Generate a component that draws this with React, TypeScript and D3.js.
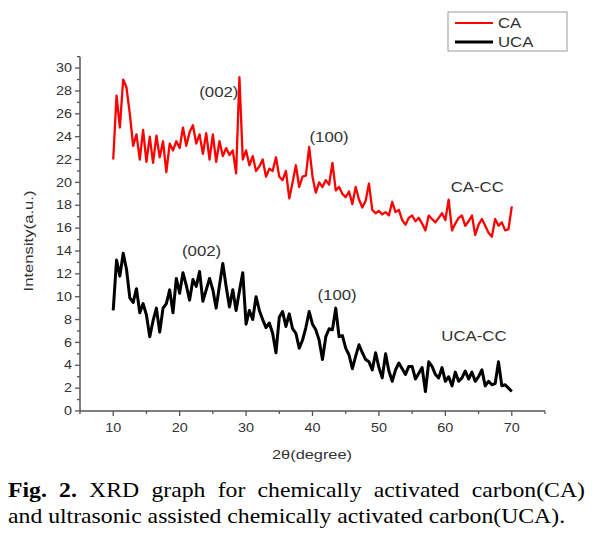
import React, { useMemo } from "react";
import * as d3 from "d3";

// ---------- data ----------
const X_START = 10;
const X_STEP = 0.5;

const caValues: number[] = [
  22.0, 27.6, 24.8, 29.0, 28.3, 26.0, 23.2, 24.2, 22.0, 24.6,
  21.8, 24.0, 21.7, 24.1, 22.2, 23.6, 20.9, 23.4, 22.8, 23.6,
  23.0, 24.8, 23.2, 24.4, 25.0, 23.4, 24.2, 22.5, 24.3, 22.0,
  24.2, 21.8, 23.6, 22.3, 23.0, 22.4, 22.8, 20.8, 29.2, 22.0,
  22.8, 21.5, 22.3, 21.0, 21.4, 22.0, 20.5, 21.2, 21.0, 22.2,
  20.5, 20.2, 21.0, 18.6, 20.0, 21.5, 19.6, 20.5, 20.6, 23.1,
  20.5, 19.1, 20.0, 19.6, 20.2, 19.8, 21.7, 19.3, 19.6, 19.0,
  18.7, 19.2, 18.1, 19.6, 18.5, 17.8, 18.4, 19.9, 17.6, 17.3,
  17.5, 17.2, 17.4, 17.1, 18.3, 17.4, 17.6, 16.7, 16.3, 16.9,
  17.1, 16.6, 16.9, 16.4, 15.8, 17.1, 16.8, 16.5, 16.9, 17.3,
  16.7, 18.5, 15.8, 16.4, 16.9, 17.1, 16.2, 16.6, 17.1, 15.4,
  16.3, 16.8, 16.2, 15.6, 15.25, 16.8, 16.2, 16.5, 15.8, 15.9,
  17.9,
];

const ucaValues: number[] = [
  8.8, 13.2, 11.8, 13.8, 12.4, 9.9, 9.5, 10.7, 8.6, 9.4,
  8.4, 6.5, 7.9, 9.0, 6.9, 9.0, 9.4, 10.6, 8.6, 11.6,
  10.3, 12.1, 11.0, 9.7, 11.5, 10.9, 12.2, 9.6, 10.6, 11.6,
  10.6, 9.0, 11.0, 12.9, 10.9, 9.1, 10.6, 8.8, 10.5, 12.1,
  7.6, 8.8, 8.0, 10.0, 8.8, 8.0, 7.3, 7.7, 6.8, 5.1,
  8.2, 8.7, 7.4, 8.5, 7.2, 6.8, 5.5, 6.2, 7.3, 8.7,
  7.6, 7.1, 6.2, 4.5, 6.5, 7.2, 7.1, 9.0, 6.5, 6.6,
  5.5, 4.9, 3.7, 4.8, 5.8, 5.1, 4.5, 4.3, 3.6, 5.1,
  3.8, 2.9, 5.0, 3.5, 2.6, 3.6, 4.2, 3.7, 3.2, 3.9,
  3.9, 2.8, 3.3, 3.8, 1.7, 4.3, 3.9, 3.2, 2.9, 3.8,
  2.6, 3.0, 2.2, 3.4, 2.6, 2.9, 3.5, 2.8, 3.4, 2.6,
  3.0, 3.6, 2.2, 2.6, 2.3, 2.4, 4.3, 2.2, 2.3, 2.0,
  1.7,
];

const xMajorTicks = [10, 20, 30, 40, 50, 60, 70];
const yMajorTicks = [0, 2, 4, 6, 8, 10, 12, 14, 16, 18, 20, 22, 24, 26, 28, 30];

const seriesNames = ["CA", "UCA"];
const seriesColors = ["#ff0000", "#000000"];

// annotations: [label, x (degree), y (intensity)]
const annotations: [string, number, number][] = [
  ["(002)", 25.9, 27.5],
  ["(100)", 42.5, 23.5],
  ["CA-CC", 64.8, 19.15],
  ["(002)", 23.3, 13.6],
  ["(100)", 43.7, 9.7],
  ["UCA-CC", 64.3, 6.1],
];

const xLabel = "2θ(degree)";
const yLabel = "Intensity(a.u.)";
const captionLine1 = ["Fig.", "2.", "XRD", "graph", "for", "chemically", "activated", "carbon(CA)"];
const captionBoldCount = 2;
const captionLine2 = "and ultrasonic assisted chemically activated carbon(UCA).";

// ---------- layout ----------
const W = 595;
const H = 540;
const SANS = "'Liberation Sans', Arial, sans-serif";
const SERIF = "'Liberation Serif', 'Times New Roman', serif";
const CAP_SIZE = 21;
const CAP_STRETCH = 1.13;
const SANS_STRETCH = 1.2;

function measure(text: string, font: string): number {
  if (typeof document === "undefined") return text.length * 9;
  const c = document.createElement("canvas");
  const ctx = c.getContext("2d");
  if (!ctx) return text.length * 9;
  ctx.font = font;
  return ctx.measureText(text).width;
}

export default function App() {
  const x = d3.scaleLinear().domain([5, 75]).range([80, 545]);
  const y = d3.scaleLinear().domain([0, 31]).range([411, 411 - 31 * 11.43]);

  const toPts = (vals: number[]) => vals.map((v, i) => [X_START + i * X_STEP, v] as [number, number]);
  const line = d3
    .line<[number, number]>()
    .x((d) => x(d[0]))
    .y((d) => y(d[1]));

  const caPath = line(toPts(caValues)) || "";
  const ucaPath = line(toPts(ucaValues)) || "";

  const yMinor = d3.range(0, 32, 1);
  const xMinor = d3.range(5, 80, 5);

  const capLeft = 8;
  const line1Pos = useMemo(() => {
    const widths = captionLine1.map((w, i) =>
      measure(w, `${i < captionBoldCount ? "bold " : ""}${CAP_SIZE}px ${SERIF}`)
    );
    const span = (585 - capLeft) / CAP_STRETCH;
    const total = widths.reduce((a, b) => a + b, 0);
    const gap = (span - total) / (captionLine1.length - 1);
    const pos: number[] = [];
    let cx = 0;
    widths.forEach((w) => {
      pos.push(cx);
      cx += w + gap;
    });
    return pos;
  }, []);

  const axisColor = "#555";
  const textColor = "#333";

  const sText = (
    key: string,
    tx: number,
    ty: number,
    content: string,
    anchor: "start" | "middle" | "end",
    size: number,
    dy?: string
  ) => (
    <text
      key={key}
      transform={`translate(${tx},${ty}) scale(${SANS_STRETCH},1)`}
      dy={dy}
      textAnchor={anchor}
      fontFamily={SANS}
      fontSize={size}
      fill={textColor}
    >
      {content}
    </text>
  );

  return (
    <svg
      width={W}
      height={H}
      style={{ position: "absolute", left: 0, top: 0, background: "#fff" }}
    >
      <rect width={W} height={H} fill="#fff" />

      {/* series */}
      <path d={caPath} fill="none" stroke={seriesColors[0]} strokeWidth={2.3} strokeLinejoin="round" />
      <path d={ucaPath} fill="none" stroke={seriesColors[1]} strokeWidth={3} strokeLinejoin="round" />

      {/* y axis */}
      <line x1={x(5)} x2={x(5)} y1={y(0)} y2={y(31)} stroke={axisColor} strokeWidth={1.5} />
      {yMinor.map((t) => (
        <line
          key={"ym" + t}
          x1={x(5)}
          x2={x(5) - (t % 2 === 0 ? 5 : 3)}
          y1={y(t)}
          y2={y(t)}
          stroke={axisColor}
          strokeWidth={1.3}
        />
      ))}
      {yMajorTicks.map((t) => sText("yl" + t, x(5) - 8, y(t), String(t), "end", 12, "0.35em"))}

      {/* x axis */}
      <line x1={x(5)} x2={x(75)} y1={y(0)} y2={y(0)} stroke={axisColor} strokeWidth={1.5} />
      {xMinor.map((t) => (
        <line
          key={"xm" + t}
          x1={x(t)}
          x2={x(t)}
          y1={y(0)}
          y2={y(0) + (t % 10 === 0 ? 5 : 3)}
          stroke={axisColor}
          strokeWidth={1.3}
        />
      ))}
      {xMajorTicks.map((t) => sText("xl" + t, x(t), y(0) + 21, String(t), "middle", 12))}

      {/* axis titles */}
      <text
        x={312}
        y={459}
        textAnchor="middle"
        fontFamily={SANS}
        fontSize={13}
        fill={textColor}
        textLength={80}
        lengthAdjust="spacingAndGlyphs"
      >
        {xLabel}
      </text>
      <text
        transform={`translate(33,241) rotate(-90)`}
        textAnchor="middle"
        fontFamily={SANS}
        fontSize={13}
        fill={textColor}
        textLength={101}
        lengthAdjust="spacingAndGlyphs"
      >
        {yLabel}
      </text>

      {/* annotations */}
      {annotations.map(([label, ax, ay], i) => sText("an" + i, x(ax), y(ay), label, "middle", 14))}

      {/* legend */}
      <rect x={448} y={12} width={119} height={39} fill="#fff" stroke="#999" strokeWidth={1} />
      {seriesNames.map((name, i) => (
        <g key={"lg" + i}>
          <line
            x1={455}
            x2={493}
            y1={23 + i * 19}
            y2={23 + i * 19}
            stroke={seriesColors[i]}
            strokeWidth={i === 0 ? 2 : 3}
          />
          {sText("lt" + i, 498, 23 + i * 19, name, "start", 14, "0.36em")}
        </g>
      ))}

      {/* caption */}
      <g transform={`translate(${capLeft},0) scale(${CAP_STRETCH},1)`}>
        {captionLine1.map((w, i) => (
          <text
            key={"c1" + i}
            x={line1Pos[i]}
            y={497}
            fontFamily={SERIF}
            fontSize={CAP_SIZE}
            fontWeight={i < captionBoldCount ? "bold" : "normal"}
            fill="#000"
          >
            {w}
          </text>
        ))}
        <text x={0} y={523} fontFamily={SERIF} fontSize={CAP_SIZE} fill="#000">
          {captionLine2}
        </text>
      </g>
    </svg>
  );
}
